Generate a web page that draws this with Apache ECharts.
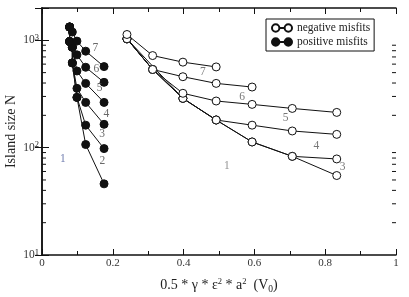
<!DOCTYPE html>
<html><head><meta charset="utf-8">
<script src="https://cdn.jsdelivr.net/npm/echarts@6/dist/echarts.min.js"></script>
<style>html,body{margin:0;padding:0;background:#fff}#c{width:409px;height:297px}</style>
</head><body><div id="c"></div><script>
// ---- data ----
const yMinorTicks = [20,30,40,50,60,70,80,90,200,300,400,500,600,700,800,900];

// positive misfits (filled circles), curves 7..2
const pos7 = [[0.078,1330],[0.0857,1194],[0.0987,983],[0.1234,792],[0.1753,569]];
const pos6 = [[0.078,1330],[0.078,975],[0.0987,732],[0.1234,561],[0.1753,406]];
const pos5 = [[0.078,1330],[0.078,975],[0.0857,863],[0.0987,518],[0.1234,397],[0.1753,264]];
const pos4 = [[0.078,1330],[0.078,975],[0.0857,863],[0.0857,616],[0.0987,357],[0.1234,264],[0.1753,165]];
const pos3 = [[0.078,1330],[0.078,975],[0.0857,863],[0.0857,616],[0.0987,294],[0.1234,162],[0.1753,98]];
const pos2 = [[0.078,1330],[0.078,975],[0.0857,863],[0.0857,616],[0.0987,294],[0.1234,107],[0.1753,46]];

// negative misfits (open circles), curves 7..2
const neg7 = [[0.24,1133],[0.3125,721],[0.398,626],[0.492,565]];
const neg6 = [[0.24,1033],[0.3125,535],[0.398,458],[0.492,397],[0.5935,367]];
const neg5 = [[0.24,1033],[0.3125,535],[0.398,321],[0.492,272],[0.5935,253],[0.707,232],[0.8326,213]];
const neg4 = [[0.24,1033],[0.3125,535],[0.398,288],[0.492,181],[0.5935,162],[0.707,143],[0.8326,133]];
const neg3 = [[0.24,1033],[0.3125,535],[0.398,288],[0.492,181],[0.5935,113],[0.707,83],[0.8326,78.5]];
const neg2 = [[0.24,1033],[0.398,288],[0.492,181],[0.5935,113],[0.707,83],[0.8326,55]];

// curve labels
const posLabels = [['7',0.151,845],['6',0.1538,541],['5',0.163,357],['4',0.182,205],['3',0.1696,133],['2',0.1708,75]];
const posLabelOne = [['1',0.059,79]];
const negLabels = [['7',0.4545,504],['6',0.565,298],['5',0.688,187],['4',0.775,103.5],['3',0.849,66]];
const negLabelOne = [['1',0.5225,67]];

// ---- chart ----
const serif = 'Liberation Serif, Times New Roman, serif';
const ink = '#111';
const posStyle = {color: ink, borderColor: ink, borderWidth: 1};
const negStyle = {color: '#fff', borderColor: ink, borderWidth: 1};

function lineSeries(name, data, style) {
  return {type: 'line', name: name, data: data, symbol: 'circle', symbolSize: 8,
    lineStyle: {color: ink, width: 1}, itemStyle: style, z: 3, silent: true};
}
function labelSeries(list, color) {
  return {type: 'scatter', symbolSize: 0, silent: true, z: 5,
    data: list.map(d => ({name: d[0], value: [d[1], d[2]]})),
    label: {show: true, position: 'inside', formatter: '{b}', fontFamily: serif, fontSize: 11.5, color: color}};
}
const iconPath = 'path://M0.5,4A3.5,3.5,0,1,1,7.5,4A3.5,3.5,0,1,1,0.5,4ZM12.5,4A3.5,3.5,0,1,1,19.5,4A3.5,3.5,0,1,1,12.5,4ZM7.5,4L12.5,4';

const axisLineStyle = {show: true, lineStyle: {color: ink, width: 1.5}};
const supRich = {
  sup: {fontSize: 8.5, verticalAlign: 'top', fontFamily: serif, color: '#222'},
  sub: {fontSize: 9.5, verticalAlign: 'bottom', fontFamily: serif, color: '#222'}
};

const option = {
  animation: false,
  backgroundColor: '#fff',
  grid: {left: 42, right: 13, top: 8, bottom: 42, outerBoundsMode: 'none'},
  legend: {
    orient: 'vertical', left: 266, top: 19, padding: [3, 4, 3, 5], itemGap: 2,
    itemWidth: 20, itemHeight: 8, itemTextGap: 3,
    borderColor: ink, borderWidth: 1, borderRadius: 0, backgroundColor: '#fff',
    textStyle: {fontFamily: serif, fontSize: 11.5, color: '#222'},
    data: [{name: 'negative misfits', icon: iconPath}, {name: 'positive misfits', icon: iconPath}]
  },
  xAxis: [
    {type: 'value', min: 0, max: 1, interval: 0.2, position: 'bottom',
     axisLine: axisLineStyle,
     axisTick: {inside: true, length: 6, lineStyle: {color: ink}},
     minorTick: {show: true, splitNumber: 2, length: 4, lineStyle: {color: ink}},
     splitLine: {show: false}, minorSplitLine: {show: false},
     axisLabel: {margin: 3, fontFamily: serif, fontSize: 11, color: '#333'},
     name: '0.5 * γ * ε{sup|2} * a{sup|2}  (V{sub|0})', nameLocation: 'middle', nameGap: 22,
     nameMoveOverlap: false,
     nameTextStyle: {fontFamily: serif, fontSize: 14, color: '#222', lineHeight: 17, rich: supRich}},
    {type: 'value', min: 0, max: 1, interval: 0.2, position: 'top',
     axisLine: axisLineStyle,
     axisTick: {inside: true, length: 6, lineStyle: {color: ink}},
     minorTick: {show: true, splitNumber: 2, length: 4, lineStyle: {color: ink}},
     splitLine: {show: false}, minorSplitLine: {show: false},
     axisLabel: {show: false}}
  ],
  yAxis: [
    {type: 'log', logBase: 10, min: 10, max: 2000, position: 'left',
     axisLine: axisLineStyle,
     axisTick: {inside: true, length: 7, lineStyle: {color: ink}},
     splitLine: {show: false},
     axisLabel: {margin: 3, fontFamily: serif, fontSize: 11.5, color: '#333', lineHeight: 14,
       formatter: v => { const e = Math.log10(v); return Math.abs(e - Math.round(e)) > 1e-6 ? '' : '10{sup|' + Math.round(e) + '}'; },
       rich: supRich},
     name: 'Island size N', nameLocation: 'middle', nameGap: 24, nameMoveOverlap: false,
     nameTextStyle: {fontFamily: serif, fontSize: 14, color: '#222'}},
    {type: 'log', logBase: 10, min: 10, max: 2000, position: 'right',
     axisLine: axisLineStyle,
     axisTick: {inside: true, length: 7, lineStyle: {color: ink}},
     splitLine: {show: false}, axisLabel: {show: false}}
  ],
  series: [
    {type: 'custom', coordinateSystem: 'cartesian2d', silent: true, clip: false, z: 1,
     data: yMinorTicks.map(v => [0, v]), encode: {x: 0, y: 1},
     renderItem: (params, api) => {
       const l = api.coord([0, api.value(1)]);
       const r = api.coord([1, api.value(1)]);
       return {type: 'group', children: [
         {type: 'line', shape: {x1: l[0], y1: l[1], x2: l[0] + 4, y2: l[1]}, style: {stroke: ink, lineWidth: 1}},
         {type: 'line', shape: {x1: r[0] - 4, y1: r[1], x2: r[0], y2: r[1]}, style: {stroke: ink, lineWidth: 1}}
       ]};
     }},
    lineSeries('negative misfits', neg2, negStyle),
    lineSeries('negative misfits', neg3, negStyle),
    lineSeries('negative misfits', neg4, negStyle),
    lineSeries('negative misfits', neg5, negStyle),
    lineSeries('negative misfits', neg6, negStyle),
    lineSeries('negative misfits', neg7, negStyle),
    lineSeries('positive misfits', pos2, posStyle),
    lineSeries('positive misfits', pos3, posStyle),
    lineSeries('positive misfits', pos4, posStyle),
    lineSeries('positive misfits', pos5, posStyle),
    lineSeries('positive misfits', pos6, posStyle),
    lineSeries('positive misfits', pos7, posStyle),
    labelSeries(posLabels, '#444'),
    labelSeries(posLabelOne, '#4a5a9a'),
    labelSeries(negLabels, '#555'),
    labelSeries(negLabelOne, '#777')
  ]
};
const chart = echarts.init(document.getElementById('c'), null, {renderer: 'canvas'});
chart.setOption(option);
</script></body></html>
